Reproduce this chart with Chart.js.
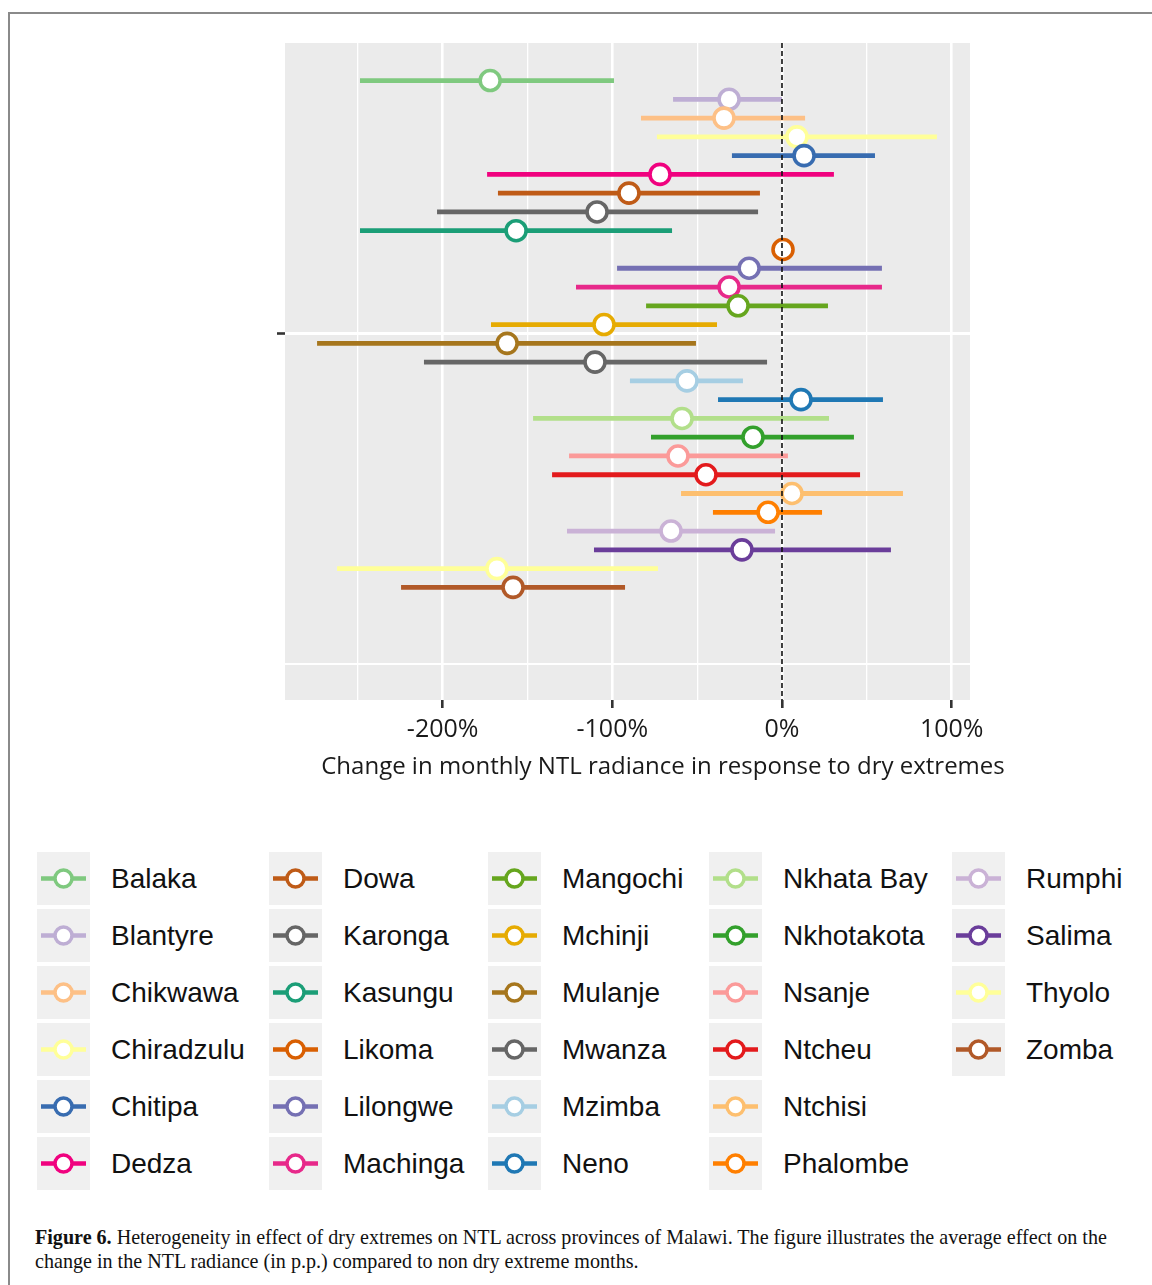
<!DOCTYPE html>
<html>
<head>
<meta charset="utf-8">
<script src="https://cdn.jsdelivr.net/npm/chart.js@4.4.1/dist/chart.umd.min.js"></script>
<style>
    html, body { margin: 0; padding: 0; background: #ffffff; }
    body { width: 1152px; height: 1285px; position: relative; overflow: hidden; }
    #frame {
        position: absolute; left: 8px; top: 12px; width: 1200px; height: 1320px;
        border-left: 2px solid #8a8a8a; border-top: 2px solid #8a8a8a;
    }
    #chartBox { position: absolute; left: 0; top: 0; width: 1152px; height: 790px; }
    #xTitle {
        position: absolute; left: 0; top: 748px; width: 1326px; text-align: center;
        font-family: "Open Sans", sans-serif; font-size: 24px; line-height: 34px;
        color: #1a1a1a; white-space: nowrap;
    }
    #legend {
        position: absolute; left: 37px; top: 852px;
        display: grid; grid-auto-flow: column;
        grid-template-rows: repeat(6, 57px);
        grid-template-columns: 232px 219px 221px 243px 200px;
        font-family: "Liberation Sans", Arial, sans-serif; font-size: 28px; color: #111;
    }
    .item { display: flex; align-items: flex-start; }
    .item svg { flex: none; }
    .item span { margin-left: 21px; line-height: 53px; white-space: nowrap; }
    #caption {
        position: absolute; left: 35px; top: 1225px; width: 1085px;
        font-family: "Liberation Serif", "Times New Roman", serif; font-size: 20.1px;
        line-height: 24px; color: #111;
    }
</style>
</head>
<body>
<div id="frame"></div>
<div id="chartBox"><canvas id="effectChart" width="1152" height="790"></canvas></div>
<div id="xTitle">Change in monthly NTL radiance in response to dry extremes</div>
<div id="legend"></div>
<div id="caption"><b>Figure 6.</b> Heterogeneity in effect of dry extremes on NTL across provinces of Malawi. The figure illustrates the average effect on the change in the NTL radiance (in p.p.) compared to non dry extreme months.</div>

<script>
// districts, top to bottom
const districts = [
    'Balaka', 'Blantyre', 'Chikwawa', 'Chiradzulu', 'Chitipa', 'Dedza', 'Dowa',
    'Karonga', 'Kasungu', 'Likoma', 'Lilongwe', 'Machinga', 'Mangochi', 'Mchinji',
    'Mulanje', 'Mwanza', 'Mzimba', 'Neno', 'Nkhata Bay', 'Nkhotakota', 'Nsanje',
    'Ntcheu', 'Ntchisi', 'Phalombe', 'Rumphi', 'Salima', 'Thyolo', 'Zomba',
];

// point estimate (%)
const estimates = [
    -172, -31.2, -34.2, 8.8, 13, -71.9, -90.2,
    -109, -156.7, 0.6, -19.4, -31.2, -25.9, -104.9,
    -162, -110.2, -56, 11.2, -58.9, -17.1, -61.3,
    -44.8, 5.9, -8.2, -65.4, -23.6, -168, -158.5,
];

// confidence interval bounds (%)
const lowerBounds = [
    -248.7, -64.2, -83.1, -73.7, -29.5, -173.8, -167.4,
    -203.3, -248.7, -3, -97.2, -121.4, -80.1, -171.5,
    -274, -211, -89.6, -37.7, -146.7, -77.2, -125.5,
    -135.5, -59.5, -40.7, -126.7, -110.8, -262.2, -224.5,
];
const upperBounds = [
    -99, 0, 13.6, 91.3, 54.8, 30.6, -13,
    -14.1, -64.8, 4, 58.9, 58.9, 27.1, -38.3,
    -50.7, -8.8, -23, 59.5, 27.7, 42.4, 3.5,
    46, 71.3, 23.6, -4.1, 64.2, -73.1, -92.5,
];

const districtColors = [
    '#7fc97f', '#beaed4', '#fdc086', '#ffff99', '#386cb0', '#f0027f', '#bf5b17',
    '#666666', '#1b9e77', '#d95f02', '#7570b3', '#e7298a', '#66a61e', '#e6ab02',
    '#a6761d', '#666666', '#a6cee3', '#1f78b4', '#b2df8a', '#33a02c', '#fb9a99',
    '#e31a1c', '#fdbf6f', '#ff7f00', '#cab2d6', '#6a3d9a', '#ffff99', '#b15928',
];

// axis setup
const xTickValues = [-250, -200, -150, -100, -50, 0, 50, 100];
const xRange = [-292.9, 110.8];
const yRange = [-2.0, 33.0];
const yGridValues = [13.5, 31.1];
const zeroLine = 0;

const tickFont = { family: '"Open Sans", sans-serif', size: 25 };
const textColor = '#1a1a1a';

// 1. datasets: CI segment + point per district (later ones on top)
const datasets = [];
districts.forEach((name, i) => {
    datasets.push({
        type: 'line',
        label: name + ' CI',
        data: [{ x: lowerBounds[i], y: i }, { x: upperBounds[i], y: i }],
        borderColor: districtColors[i],
        borderWidth: 4.8,
        borderCapStyle: 'butt',
        pointRadius: 0,
        order: 1000 - 2 * i,
    });
    datasets.push({
        type: 'scatter',
        label: name,
        data: [{ x: estimates[i], y: i }],
        borderColor: districtColors[i],
        backgroundColor: '#ffffff',
        borderWidth: 3.6,
        pointRadius: 10,
        order: 999 - 2 * i,
    });
});

// dashed reference line at 0%
datasets.push({
    type: 'line',
    label: 'zero',
    data: [{ x: zeroLine, y: yRange[0] }, { x: zeroLine, y: yRange[1] }],
    borderColor: '#111111',
    borderWidth: 1.6,
    borderDash: [5, 3],
    pointRadius: 0,
    clip: false,
    order: 0,
});

// 2. gray panel background
const panelBackground = {
    id: 'panelBackground',
    beforeDraw(chart) {
        const { ctx, chartArea: a } = chart;
        ctx.save();
        ctx.fillStyle = '#ebebeb';
        ctx.fillRect(a.left, a.top, a.right - a.left, a.bottom - a.top);
        ctx.restore();
    },
};

const isMajor = (v) => v % 100 === 0;

// 3. chart
new Chart(document.getElementById('effectChart').getContext('2d'), {
    type: 'scatter',
    data: { datasets },
    plugins: [panelBackground],
    options: {
        responsive: false,
        animation: false,
        layout: { padding: { left: 277, right: 182, top: 43, bottom: 38 } },
        plugins: {
            legend: { display: false },
            tooltip: { enabled: false },
        },
        scales: {
            x: {
                type: 'linear',
                min: xRange[0],
                max: xRange[1],
                afterBuildTicks: (scale) => {
                    scale.ticks = xTickValues.map((v) => ({ value: v }));
                },
                border: { display: false },
                grid: {
                    color: '#ffffff',
                    lineWidth: (c) => (isMajor(c.tick.value) ? 2.6 : 1.3),
                    tickColor: (c) => (isMajor(c.tick.value) ? '#333333' : 'rgba(0,0,0,0)'),
                    tickWidth: 2.6,
                    tickLength: 8,
                },
                ticks: {
                    padding: 7,
                    color: textColor,
                    font: tickFont,
                    maxRotation: 0,
                    autoSkip: false,
                    callback: (v) => (isMajor(v) ? v + '%' : ''),
                },
            },
            y: {
                type: 'linear',
                reverse: true,
                min: yRange[0],
                max: yRange[1],
                afterBuildTicks: (scale) => {
                    scale.ticks = yGridValues.map((v) => ({ value: v }));
                },
                border: { display: false },
                grid: {
                    color: '#ffffff',
                    lineWidth: (c) => (c.index === 0 ? 3 : 2),
                    tickColor: (c) => (c.index === 0 ? '#333333' : 'rgba(0,0,0,0)'),
                    tickWidth: 2.6,
                    tickLength: 8,
                },
                ticks: { display: false },
            },
        },
    },
});

// 4. legend (column-major, 6 rows)
const legend = document.getElementById('legend');
districts.forEach((name, i) => {
    const c = districtColors[i];
    const item = document.createElement('div');
    item.className = 'item';
    item.innerHTML =
        `<svg width="53" height="53" viewBox="0 0 53 53">` +
        `<rect width="53" height="53" fill="#f0f0f0"/>` +
        `<line x1="4" y1="26.5" x2="49" y2="26.5" stroke="${c}" stroke-width="4.5"/>` +
        `<circle cx="26.5" cy="26.5" r="8.5" fill="#ffffff" stroke="${c}" stroke-width="3.5"/>` +
        `</svg><span>${name}</span>`;
    legend.appendChild(item);
});
</script>
</body>
</html>
